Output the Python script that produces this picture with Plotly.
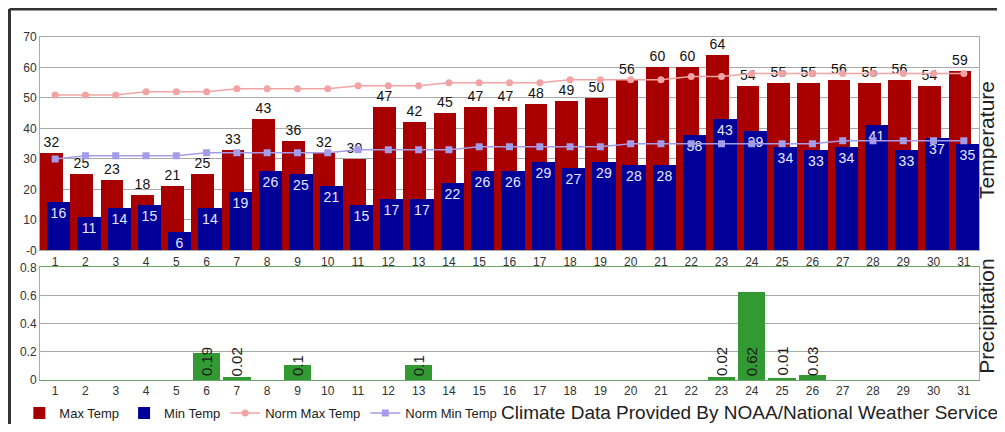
import plotly.graph_objects as go
from plotly.subplots import make_subplots

DAYS = list(range(1, 32))
MAX_TEMP = [32, 25, 23, 18, 21, 25, 33, 43, 36, 32, 30, 47, 42, 45, 47, 47,
            48, 49, 50, 56, 60, 60, 64, 54, 55, 55, 56, 55, 56, 54, 59]
MIN_TEMP = [16, 11, 14, 15, 6, 14, 19, 26, 25, 21, 15, 17, 17, 22, 26, 26,
            29, 27, 29, 28, 28, 38, 43, 39, 34, 33, 34, 41, 33, 37, 35]
NORM_MAX = [51, 51, 51, 52, 52, 52, 53, 53, 53, 53, 54, 54, 54, 55, 55, 55,
            55, 56, 56, 56, 56, 57, 57, 58, 58, 58, 58, 58, 58, 58, 58]
NORM_MIN = [30, 31, 31, 31, 31, 32, 32, 32, 32, 32, 33, 33, 33, 33, 34, 34,
            34, 34, 34, 35, 35, 35, 35, 35, 35, 35, 36, 36, 36, 36, 36]
PRECIP = [0, 0, 0, 0, 0, 0.19, 0.02, 0, 0.1, 0, 0, 0, 0.1, 0, 0, 0,
          0, 0, 0, 0, 0, 0, 0.02, 0.62, 0.01, 0.03, 0, 0, 0, 0, 0]

TEMP_TICKS = [0, 10, 20, 30, 40, 50, 60, 70]
TEMP_TICKTEXT = ["-0", "10", "20", "30", "40", "50", "60", "70"]
PRECIP_TICKS = [0, 0.2, 0.4, 0.6, 0.8]
PRECIP_TICKTEXT = ["0", "0.2", "0.4", "0.6", "0.8"]

FONT = "Liberation Sans, Arial, sans-serif"
GRID = "#a9a9a9"

fig = make_subplots(rows=2, cols=1, shared_xaxes=False, vertical_spacing=0.05)

fig.add_trace(go.Bar(
    x=DAYS, y=MAX_TEMP, name="Max Temp", marker_color="#a80000",
    marker_line_width=0, width=0.75, offset=-0.5,
    text=[str(v) for v in MAX_TEMP], textposition="outside",
    textfont=dict(size=14, color="#111111", family=FONT),
    textangle=0, constraintext="none", cliponaxis=False,
), row=1, col=1)

fig.add_trace(go.Bar(
    x=DAYS, y=MIN_TEMP, name="Min Temp", marker_color="#000099",
    marker_line_width=0, width=0.77, offset=-0.27,
    text=[str(v) for v in MIN_TEMP], textposition="inside",
    insidetextanchor="end",
    textfont=dict(size=14, color="#e8e8ff", family=FONT),
    textangle=0, constraintext="none",
), row=1, col=1)

fig.add_trace(go.Scatter(
    x=DAYS, y=NORM_MAX, name="Norm Max Temp", mode="lines+markers",
    line=dict(color="#f2a4a4", width=1.5),
    marker=dict(symbol="circle", size=7, color="#f2a4a4"),
), row=1, col=1)

fig.add_trace(go.Scatter(
    x=DAYS, y=NORM_MIN, name="Norm Min Temp", mode="lines+markers",
    line=dict(color="#a39ce8", width=1.5),
    marker=dict(symbol="square", size=7, color="#a39ce8"),
), row=1, col=1)

fig.add_trace(go.Bar(
    x=DAYS, y=PRECIP, name="Precipitation", marker_color="#339933",
    marker_line_width=0, width=0.9, showlegend=False,
), row=2, col=1)

for d, p in zip(DAYS, PRECIP):
    if p > 0:
        fig.add_annotation(
            x=d, y=0, xref="x2", yref="y2", text=str(p), textangle=-90,
            showarrow=False, xanchor="center", yanchor="bottom", yshift=2,
            font=dict(size=15, color="#1a1a1a", family=FONT),
        )

axis_common = dict(gridcolor=GRID, gridwidth=1, showline=True,
                   linecolor=GRID, linewidth=1, mirror=True, zeroline=False,
                   ticks="", tickfont=dict(size=12, color="#333333", family=FONT))

fig.update_xaxes(range=[0.5, 31.5], tickvals=DAYS, ticktext=[str(d) for d in DAYS],
                 showgrid=False, **axis_common)
fig.update_xaxes(linecolor="#6aa86a", row=2, col=1)
fig.update_yaxes(showgrid=True, **axis_common)
fig.update_yaxes(range=[0, 70], tickvals=TEMP_TICKS, ticktext=TEMP_TICKTEXT,
                 row=1, col=1)
fig.update_yaxes(range=[0, 0.8], tickvals=PRECIP_TICKS, ticktext=PRECIP_TICKTEXT,
                 row=2, col=1)

fig.update_layout(
    width=997, height=416,
    margin=dict(l=32, r=26, t=29, b=44, autoexpand=False),
    paper_bgcolor="white", plot_bgcolor="white",
    barmode="overlay", bargap=0,
    font=dict(family=FONT, color="#222222"),
    showlegend=True,
    legend=dict(orientation="h", x=-0.022, y=-0.096, xanchor="left",
                yanchor="middle", font=dict(size=13, color="#222222", family=FONT),
                tracegroupgap=0, itemwidth=30, bgcolor="rgba(0,0,0,0)"),
    yaxis=dict(domain=[0.378, 1.0]),
    yaxis2=dict(domain=[0.0, 0.328]),
)

fig.add_annotation(xref="paper", yref="paper", x=1, y=0.70, xshift=8,
                   text="Temperature", textangle=-90, showarrow=False,
                   xanchor="center", yanchor="middle",
                   font=dict(size=21, color="#222222", family=FONT))
fig.add_annotation(xref="paper", yref="paper", x=1, y=0.187, xshift=8,
                   text="Precipitation", textangle=-90, showarrow=False,
                   xanchor="center", yanchor="middle",
                   font=dict(size=21, color="#222222", family=FONT))
fig.add_annotation(xref="paper", yref="paper", x=1.0224, y=-0.096,
                   text="Climate Data Provided By NOAA/National Weather Service",
                   showarrow=False, xanchor="right", yanchor="middle",
                   font=dict(size=19, color="#222222", family=FONT))

# outer frame (top and left edges)
fig.add_shape(type="line", xref="paper", yref="paper", x0=-0.0325, x1=1.05,
              y0=1.0816, y1=1.0816, line=dict(color="#333333", width=3))
fig.add_shape(type="line", xref="paper", yref="paper", x0=-0.0325, x1=-0.0325,
              y0=1.0816, y1=-0.2, line=dict(color="#333333", width=3))

fig.write_html("out.html")
